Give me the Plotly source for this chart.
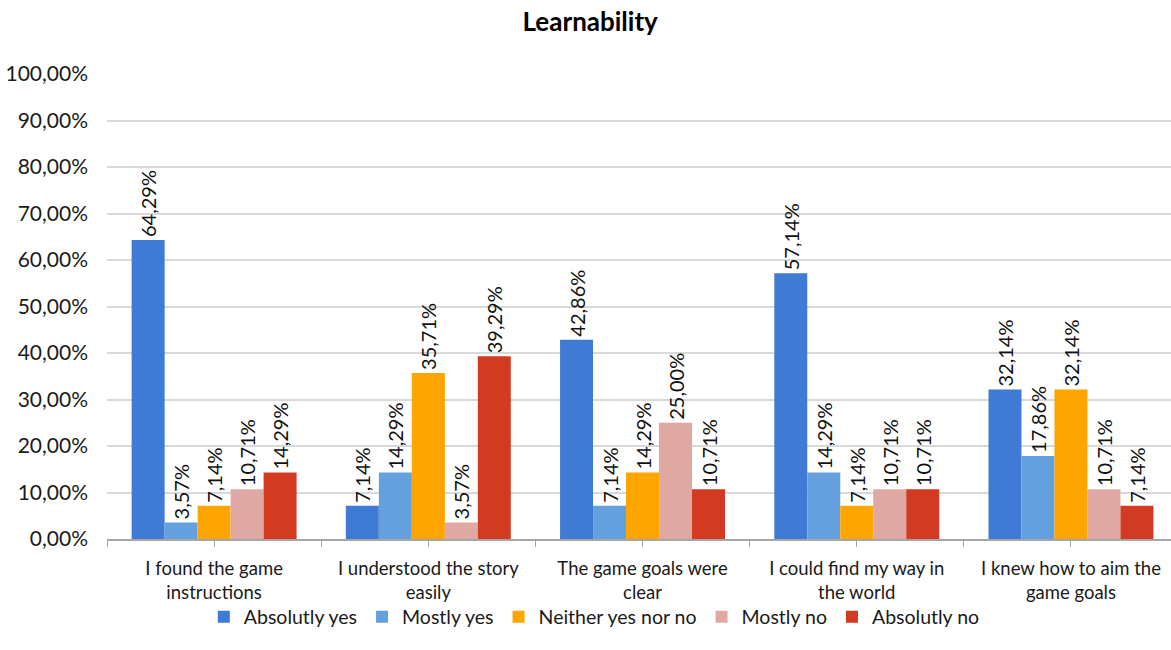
import plotly.graph_objects as go

categories = [
    "I found the game<br>instructions",
    "I understood the story<br>easily",
    "The game goals were<br>clear",
    "I could find my way in<br>the world",
    "I knew how to aim the<br>game goals",
]
series_names = ["Absolutly yes", "Mostly yes", "Neither yes nor no", "Mostly no", "Absolutly no"]
absolutly_yes = [64.29, 7.14, 42.86, 57.14, 32.14]
mostly_yes = [3.57, 14.29, 7.14, 14.29, 17.86]
neither = [7.14, 35.71, 14.29, 7.14, 32.14]
mostly_no = [10.71, 3.57, 25.00, 10.71, 10.71]
absolutly_no = [14.29, 39.29, 10.71, 10.71, 7.14]
series_values = [absolutly_yes, mostly_yes, neither, mostly_no, absolutly_no]
colors = ["#3F7BD4", "#65A0DE", "#FFA500", "#DFA8A3", "#D33A22"]
y_ticks = [0, 10, 20, 30, 40, 50, 60, 70, 80, 90, 100]

FONT = "Lato"
x_idx = list(range(len(categories)))

fig = go.Figure()
for name, vals, col in zip(series_names, series_values, colors):
    fig.add_trace(go.Bar(
        x=x_idx, y=vals, name=name,
        marker=dict(color=col, line=dict(width=0)),
        texttemplate="%{y:.2f}%", textposition="outside", textangle=-90,
        textfont=dict(family=FONT, size=20, color="#111111"),
        cliponaxis=False, constraintext="none",
    ))

tick_all = [i * 0.5 - 0.5 for i in range(2 * len(categories) + 1)]
tick_text = ["" if k % 2 == 0 else categories[k // 2] for k in range(len(tick_all))]
y_text = [f"{v:.2f}%".replace(".", ",") for v in y_ticks]

fig.update_layout(
    width=1171, height=650,
    margin=dict(l=107, r=0, t=73.5, b=110.5),
    paper_bgcolor="white", plot_bgcolor="white",
    separators=",.",
    barmode="group", bargap=0.23, bargroupgap=0,
    title=dict(text="<b>Learnability</b>", x=0.504, xanchor="center", y=0.967, yanchor="middle",
               font=dict(family=FONT, size=26, color="#000000")),
    font=dict(family=FONT, size=20, color="#1a1a1a"),
    showlegend=True,
    legend=dict(orientation="h", x=0.458, xanchor="center", y=-0.168, yanchor="middle",
                font=dict(family=FONT, size=19.5, color="#1a1a1a"),
                itemwidth=30, traceorder="normal", bgcolor="rgba(0,0,0,0)"),
    xaxis=dict(range=[-0.5, 4.467], tickmode="array", tickvals=tick_all, ticktext=tick_text,
               ticks="outside", ticklen=6, tickcolor="#A6A6A6", tickwidth=1,
               showline=True, linecolor="#A6A6A6", linewidth=1.5, showgrid=False, zeroline=False,
               ticklabelstandoff=6,
               tickfont=dict(family=FONT, size=18.5, color="#1a1a1a")),
    xaxis2=dict(overlaying="x", matches="x", anchor="y", side="bottom", range=[-0.5, 4.467],
                tickmode="array", tickvals=tick_all, ticks="inside", ticklen=6,
                tickcolor="#A6A6A6", tickwidth=1, showticklabels=False, showgrid=False,
                zeroline=False, showline=False),
    yaxis=dict(range=[0, 100], tickmode="array", tickvals=y_ticks, ticktext=y_text,
               showgrid=True, gridcolor="#D9D9D9", gridwidth=1.5,
               zeroline=False, showline=False, ticks="", ticklabelstandoff=18,
               tickfont=dict(family=FONT, size=21, color="#1a1a1a")),
)

fig.write_html("out.html")
